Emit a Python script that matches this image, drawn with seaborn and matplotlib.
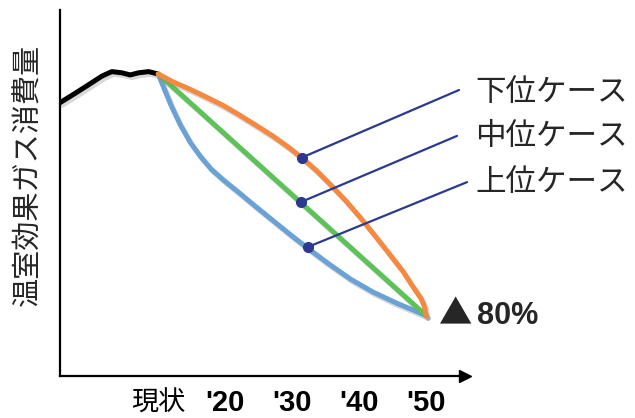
import matplotlib
matplotlib.use("Agg")
import matplotlib.pyplot as plt
import matplotlib.patheffects as pe
import seaborn as sns

# ---- data (index: current level = 100) ----
hist_years = [1995.32, 1997.57, 1999.56, 2001.57, 2003.06, 2004.56, 2005.81, 2007.05, 2008.55, 2010.0]
hist_vals = [90.5, 93.6, 96.4, 99.3, 100.8, 100.4, 99.7, 100.4, 100.8, 100.0]

low_years = [2010.0, 2012.10, 2014.49, 2017.04, 2019.59, 2021.99, 2024.53, 2027.08, 2029.48, 2031.58,
             2033.68, 2035.78, 2038.01, 2040.27, 2042.52, 2044.76, 2046.55, 2048.05, 2049.25, 2049.7, 2050.0]
low_vals = [100.0, 97.5, 95.2, 92.5, 89.7, 86.6, 83.1, 79.5, 75.7, 72.0,
            67.9, 63.2, 58.0, 52.2, 46.0, 39.7, 34.6, 29.5, 25.6, 23.2, 20.0]

mid_years = [2010.0, 2050.0]
mid_vals = [100.0, 20.0]

high_years = [2010.0, 2010.90, 2011.95, 2013.30, 2014.79, 2016.29, 2017.94, 2019.89, 2022.28, 2024.83,
              2027.39, 2029.78, 2032.32, 2035.47, 2038.76, 2042.06, 2045.51, 2048.20, 2050.0]
high_vals = [100.0, 95.0, 89.4, 83.1, 77.3, 72.7, 68.4, 64.6, 60.3, 55.6,
             51.0, 46.7, 42.3, 37.1, 32.0, 27.8, 24.2, 21.7, 20.0]

case_labels = ["下位ケース", "中位ケース", "上位ケース"]
case_dot_x = [2031.4, 2031.3, 2032.3]
case_dot_y = [72.3, 57.6, 42.7]
case_line_end_x = [2054.9, 2054.6, 2056.1]
case_line_end_y = [94.7, 79.5, 64.2]
case_text_y = [94.0, 79.2, 64.0]

tick_pos = [2010, 2020, 2030, 2040, 2050]
tick_labels = ["現状", "'20", "'30", "'40", "'50"]
ylabel = "温室効果ガス消費量"
reduction_label = "▲80%"

# ---- style ----
sns.set_style("white")
plt.rcParams["font.family"] = ["Noto Sans CJK JP", "DejaVu Sans"]

fig = plt.figure(figsize=(6.35, 4.18), dpi=100)
ax = fig.add_axes([60 / 635, 42 / 418, 405 / 635, 366 / 418])
ax.set_xlim(1995.32, 2055.8)
ax.set_ylim(0, 121.2)

shadow = [pe.SimpleLineShadow(offset=(1.5, -2), shadow_color="gray", alpha=0.3, rho=1), pe.Normal()]

colors = {"low": "#F6883F", "mid": "#5DC257", "high": "#6AA2D6"}
lw = 3.6
common = dict(sort=False, path_effects=shadow, solid_capstyle="round", solid_joinstyle="round")

sns.lineplot(x=hist_years, y=hist_vals, ax=ax, color="black", lw=lw, **common)
sns.lineplot(x=high_years, y=high_vals, ax=ax, color=colors["high"], lw=lw, **common)
sns.lineplot(x=mid_years, y=mid_vals, ax=ax, color=colors["mid"], lw=lw, **common)
sns.lineplot(x=low_years, y=low_vals, ax=ax, color=colors["low"], lw=lw, **common)

navy = "#2B3990"
for lbl, dx, dy, ex, ey, ty in zip(case_labels, case_dot_x, case_dot_y,
                                    case_line_end_x, case_line_end_y, case_text_y):
    ax.plot([dx, ex], [dy, ey], color=navy, lw=1.6, clip_on=False, zorder=5)
    ax.plot([dx], [dy], "o", color=navy, ms=7, clip_on=False, zorder=6)
    ax.text(2057.3, ty, lbl, fontsize=22, va="center", ha="left", clip_on=False)

# "▲80%": triangle in the CJK font (full-size glyph), number in bold sans
ax.text(2051.9, 17.0, reduction_label[0], fontsize=24, va="baseline", ha="left",
        family=["Noto Sans CJK JP", "DejaVu Sans"], clip_on=False)
ax.text(2057.6, 17.3, reduction_label[1:], fontsize=22, fontweight="bold", va="baseline", ha="left",
        family=["Liberation Sans", "DejaVu Sans"], clip_on=False)

# axes
for s in ["top", "right"]:
    ax.spines[s].set_visible(False)
for s in ["left", "bottom"]:
    ax.spines[s].set_linewidth(1.6)
    ax.spines[s].set_color("black")
ax.plot(1, 0, ">k", ms=8, transform=ax.get_yaxis_transform(), clip_on=False)
ax.plot(0, 1, "^k", ms=8, transform=ax.get_xaxis_transform(), clip_on=False)

ax.set_yticks([])
ax.set_xticks(tick_pos)
ax.set_xticklabels(tick_labels)
ax.tick_params(axis="x", direction="inout", length=10, width=1.5, pad=4.5, colors="black")
for i, t in enumerate(ax.get_xticklabels()):
    if i == 0:
        t.set_fontsize(19.5)
        t.set_family(["Noto Sans CJK JP", "DejaVu Sans"])
    else:
        t.set_fontsize(21)
        t.set_fontweight("bold")
        t.set_family(["Liberation Sans", "DejaVu Sans"])

ax.set_ylabel(ylabel, fontsize=21)
ax.yaxis.set_label_coords(-0.04, 0.55)

fig.savefig("out.png", dpi=100)
